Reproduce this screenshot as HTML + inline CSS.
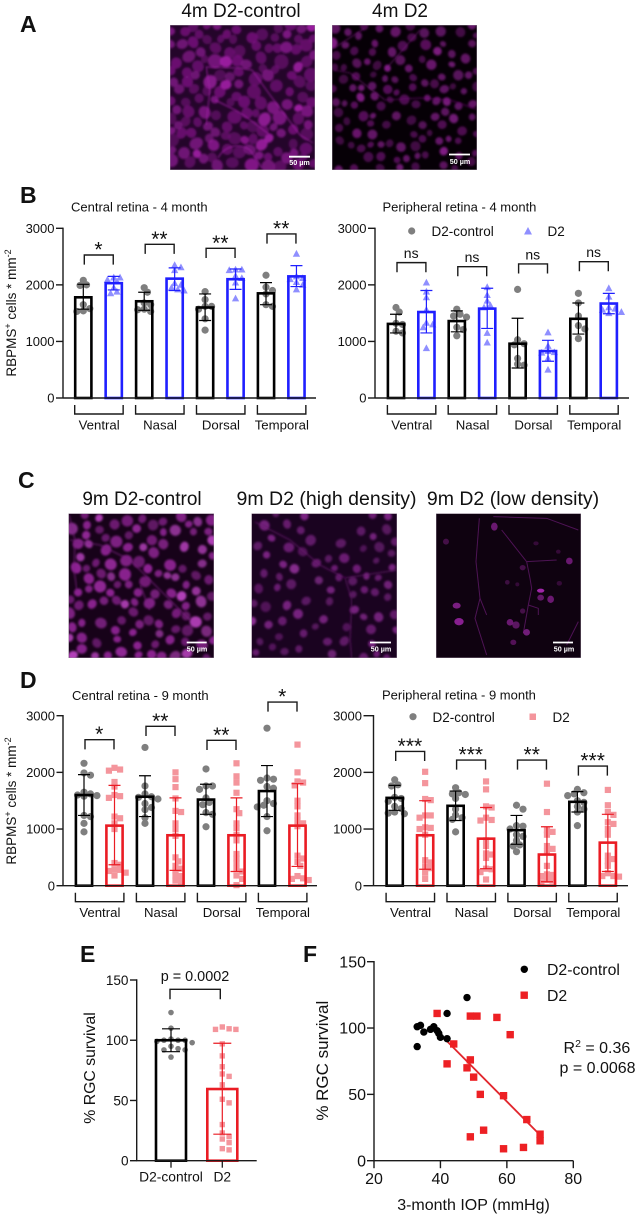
<!DOCTYPE html>
<html lang="en">
<head>
<meta charset="utf-8">
<title>RGC density figure</title>
<style>
html,body{margin:0;padding:0;background:#fff;}
svg{display:block;font-family:"Liberation Sans",sans-serif;}
text{fill:#111;}
</style>
</head>
<body>
<svg id="fig" xmlns="http://www.w3.org/2000/svg" width="638" height="1217" viewBox="0 0 638 1217">
  <defs>
    <filter id="soft" x="-5%" y="-5%" width="110%" height="110%"><feGaussianBlur stdDeviation="1"/></filter>
    <clipPath id="clipA1"><rect x="170" y="25" width="145" height="145"/></clipPath>
    <clipPath id="clipA2"><rect x="332" y="25" width="145" height="145"/></clipPath>
    <clipPath id="clipC1"><rect x="68.5" y="513.5" width="145.5" height="144.5"/></clipPath>
    <clipPath id="clipC2"><rect x="251.5" y="513.5" width="145.5" height="144.5"/></clipPath>
    <clipPath id="clipC3"><rect x="436" y="513.5" width="145" height="144.5"/></clipPath>
  </defs>
  <text x="20" y="32" font-size="23" font-weight="bold">A</text>
  <text x="20" y="203" font-size="23" font-weight="bold">B</text>
  <text x="18" y="488" font-size="23" font-weight="bold">C</text>
  <text x="20" y="688" font-size="23" font-weight="bold">D</text>
  <text x="80" y="962" font-size="23" font-weight="bold">E</text>
  <text x="303" y="962" font-size="23" font-weight="bold">F</text>

  <text x="241" y="17" font-size="19" text-anchor="middle">4m D2-control</text>
  <text x="400" y="17" font-size="19" text-anchor="middle">4m D2</text>
  <text x="142" y="505" font-size="19" text-anchor="middle">9m D2-control</text>
  <text x="326.5" y="505" font-size="19.5" text-anchor="middle">9m D2 (high density)</text>
  <text x="513" y="505" font-size="19.5" text-anchor="middle">9m D2 (low density)</text>

  <g id="images"></g>

  <text x="71" y="211.5" font-size="13">Central retina - 4 month</text>
  <text x="382.5" y="211.5" font-size="13">Peripheral retina - 4 month</text>
  <text x="72" y="700" font-size="13">Central retina - 9 month</text>
  <text x="382" y="699.5" font-size="13">Peripheral retina - 9 month</text>

  <text transform="translate(16,313) rotate(-90)" font-size="13.5" text-anchor="middle">RBPMS<tspan font-size="9" dy="-5">+</tspan><tspan dy="5"> cells * mm</tspan><tspan font-size="9" dy="-5">-2</tspan></text>
  <text transform="translate(16,801) rotate(-90)" font-size="13.5" text-anchor="middle">RBPMS<tspan font-size="9" dy="-5">+</tspan><tspan dy="5"> cells * mm</tspan><tspan font-size="9" dy="-5">-2</tspan></text>

  <g>
    <circle cx="411.7" cy="231" r="3.6" fill="#7f7f7f"/>
    <text x="431.5" y="236" font-size="13.5">D2-control</text>
    <polygon points="528,227 532,234.5 524,234.5" fill="#8f8fff"/>
    <text x="547.5" y="236" font-size="13.5">D2</text>
  </g>
  <g>
    <circle cx="413" cy="716.7" r="3.6" fill="#7f7f7f"/>
    <text x="432.5" y="722" font-size="13.5">D2-control</text>
    <rect x="529.5" y="713.5" width="6.5" height="6.5" fill="#f4959c"/>
    <text x="552.5" y="722" font-size="13.5">D2</text>
  </g>
  <g id="charts"></g>

  <text transform="translate(95,1068) rotate(-90)" font-size="15.8" text-anchor="middle">% RGC survival</text>
  <text x="195" y="981" font-size="14.4" text-anchor="middle">p = 0.0002</text>

  <text transform="translate(328,1060.7) rotate(-90)" font-size="17" text-anchor="middle">% RGC survival</text>
  <text x="473.5" y="1210" font-size="16" text-anchor="middle">3-month IOP (mmHg)</text>
  <text x="547" y="975" font-size="15.8">D2-control</text>
  <text x="547" y="1001" font-size="15.8">D2</text>
  <text x="563.5" y="1053" font-size="16">R<tspan font-size="10.5" dy="-6">2</tspan><tspan dy="6"> = 0.36</tspan></text>
  <text x="559.5" y="1073" font-size="16">p = 0.0068</text>
</svg>
<script>
/* ---------- chart data ---------- */
const groupNames = ['Ventral','Nasal','Dorsal','Temporal'];
const densityTicks = [0,1000,2000,3000];

/* B central, 4 months */
const bcCtrlMean = [1780,1710,1600,1850];
const bcCtrlLow  = [1570,1550,1370,1650];
const bcCtrlHigh = [2010,1870,1840,2040];
const bcCtrlPts  = [[2080,2000,1990,1650,1580,1540,1530],[1950,1870,1680,1650,1570,1560,1530],[1880,1740,1620,1620,1570,1400,1200],[2170,1960,1900,1840,1650,1620]];
const bcD2Mean = [2030,2110,2100,2150];
const bcD2Low  = [1910,1900,1920,1970];
const bcD2High = [2150,2300,2280,2340];
const bcD2Pts  = [[2130,2130,2090,2060,1950,1880,1850],[2350,2310,2260,2030,2000,1950,1920,1900],[2270,2270,2260,2160,2120,2040,1760],[2550,2150,2120,2100,2050,2000,1920]];
const bcSig = ['*','**','**','**'];
const bcBracket = [2528,2717,2646,2900];

/* B peripheral, 4 months */
const bpCtrlMean = [1310,1360,960,1400];
const bpCtrlLow  = [1150,1170,530,1130];
const bpCtrlHigh = [1480,1540,1410,1680];
const bpCtrlPts  = [[1600,1520,1320,1300,1180,1150],[1570,1480,1450,1430,1250,1210,1100],[1920,1030,960,940,700,600,580],[1850,1680,1450,1280,1220,1050]];
const bpD2Mean = [1520,1580,830,1670];
const bpD2Low  = [1150,1230,650,1490];
const bpD2High = [1900,1940,1020,1850];
const bpD2Pts  = [[2040,1880,1780,1560,1330,1300,1250,880],[1960,1820,1720,1640,1600,1150,980],[1160,920,830,810,800,700,500],[1940,1790,1600,1580,1560,1520,1500]];
const bpSig = ['ns','ns','ns','ns'];
const bpBracket = [2393,2322,2370,2410];

/* D central, 9 months */
const dcCtrlMean = [1600,1570,1520,1670];
const dcCtrlLow  = [1240,1220,1260,1220];
const dcCtrlHigh = [1960,1940,1790,2120];
const dcCtrlPts  = [[2160,1990,1950,1650,1620,1600,1590,1580,1240,1220,1100,950],[2440,1760,1620,1570,1560,1530,1450,1380,1340,1200,1100],[2060,1760,1760,1700,1550,1470,1430,1290,1260,1040],[2780,1900,1880,1860,1750,1720,1500,1450,1420,1390,1220,970]];
const dcD2Mean = [1060,890,890,1060];
const dcD2Low  = [370,270,250,340];
const dcD2High = [1770,1550,1550,1800];
const dcD2Pts  = [[2080,2050,2030,1830,1750,1600,1580,1550,1220,1190,1100,1000,400,370,290,280,260,230,180],[2000,1880,1740,1540,1320,1300,1100,1000,880,500,430,350,300,270,180,170,90,80],[2160,1930,1820,1640,1350,1280,1100,1020,900,800,560,480,400,300,250,180,120,10],[2490,2000,1840,1820,1770,1500,1400,1240,1150,1100,1050,530,480,420,350,170,130,120,100]];
const dcSig = ['*','**','**','*'];
const dcBracket = [2576,2812,2565,3241];

/* D peripheral, 9 months */
const dpCtrlMean = [1550,1410,980,1480];
const dpCtrlLow  = [1330,1150,730,1300];
const dpCtrlHigh = [1770,1670,1240,1660];
const dpCtrlPts  = [[1870,1780,1760,1560,1540,1490,1400,1360,1300,1280,1270],[1730,1640,1620,1610,1540,1350,1250,1200,1170,950],[1420,1350,1060,1050,1000,900,870,800,720,700,600],[1700,1640,1620,1590,1500,1470,1400,1350,1300,1060]];
const dpD2Mean = [890,830,550,760];
const dpD2Low  = [290,300,70,250];
const dpD2High = [1500,1380,1040,1260];
const dpD2Pts  = [[2010,1810,1530,1510,1240,1240,1200,1030,1020,1000,900,450,410,340,310,230,120],[1840,1700,1400,1380,1200,1160,1150,800,700,570,550,490,300,290,240,110],[1800,1300,980,950,900,700,650,600,350,200,190,170,100,90,60],[1690,1420,1300,1250,1120,1090,1000,900,530,470,430,350,220,170,170,160]];
const dpSig = ['***','***','**','***'];
const dpBracket = [2370,2218,2218,2112];

/* E survival */
const eCategories = ['D2-control','D2'];
const eTicks = [0,50,100,150];
const eMeans = [100,59.5];
const eLow   = [90.5,22];
const eHigh  = [109.5,97.5];
const eCtrlPts = [123,110,101,100,100,100,99,98,95,93,92,92,86];
const eD2Pts = [111,109.5,109,109,97,87,78,72,70,63,51,48,30,23,20,18,15,10,9];
const eBracketTop = 142.3;

/* F scatter */
const fXTicks = [20,40,60,80];
const fYTicks = [0,50,100,150];
const fCtrlIop = [33,33,34,35,37,38,39,39.5,40,42,42,48];
const fCtrlSurvival = [86,101,102,97,99,101,98,96,93,92,111,123];
const fD2Iop = [39,42,44,48,49,49,51,50,52,57,61,59,66,70,70,65,59,53,49];
const fD2Survival = [111,73,88,70,76,109,109,63,50,108,95,49,31,20,15,10,9,23,18];
const fFitIop = [42,69.5];
const fFitSurvival = [90,20.6];

/* ---------- helpers ---------- */
const NS = 'http://www.w3.org/2000/svg';
function mk(parent, tag, attrs, text){
  const el = document.createElementNS(NS, tag);
  for (const k in attrs) el.setAttribute(k, attrs[k]);
  if (text !== undefined) el.textContent = text;
  parent.appendChild(el);
  return el;
}
function swarm(values, yScale, d, limit){
  const sorted = values.slice().sort((a,b)=>b-a);
  const placed = [];
  sorted.forEach(v=>{
    const py = yScale(v);
    let off = 0, best = -1;
    for (let i=0;i<=limit;i++){
      const c = (i%2 ? 1 : -1) * Math.ceil(i/2) * d * 0.45;
      const nearest = placed.reduce((m,p)=>Math.min(m,Math.hypot(p.off-c,p.py-py)),Infinity);
      if (nearest >= d*0.72) { off = c; best = nearest; break; }
      if (nearest > best) { best = nearest; off = c; }
    }
    placed.push({off, py});
  });
  return placed;
}
function marker(parent, shape, cx, cy, s, fill){
  if (shape === 'circle') return mk(parent,'circle',{cx:cx,cy:cy,r:s/2,fill:fill});
  if (shape === 'square') return mk(parent,'rect',{x:cx-s/2,y:cy-s/2,width:s,height:s,fill:fill});
  return mk(parent,'polygon',{points:`${cx},${cy-s*0.55} ${cx+s*0.52},${cy+s*0.42} ${cx-s*0.52},${cy+s*0.42}`,fill:fill});
}

const charts = document.getElementById('charts');

function drawDensityPanel(cfg){
  const g = mk(charts,'g',{});
  
  
  const y = v => cfg.y0 - (v/3000)*(cfg.y0-cfg.y3000);
  const cx = i => cfg.first + i*cfg.step;

  /* points first, bars over them */
  const series = [
    {mean:cfg.ctrlMean,low:cfg.ctrlLow,high:cfg.ctrlHigh,pts:cfg.ctrlPts,color:'#000',ptColor:'#7f7f7f',shape:'circle',size:7.2},
    {mean:cfg.d2Mean,low:cfg.d2Low,high:cfg.d2High,pts:cfg.d2Pts,color:cfg.d2Color,ptColor:cfg.d2PtColor,shape:cfg.d2Shape,size:cfg.d2Shape==='square'?6.2:7}
  ];
  series.forEach((s,si)=>{
    s.mean.forEach((m,gi)=>{
      const c = cx(gi*2+si);
      const ptGroup = mk(g,'g',{});
      
      
      swarm(s.pts[gi], y, s.size, 7).forEach(p=>{
        const pt = marker(ptGroup, s.shape, c+p.off, p.py, s.size, s.ptColor);
        
        
      });
      const bar = mk(g,'rect',{x:c-8.1,y:y(m),width:16.2,height:cfg.y0-y(m),fill:'none',stroke:s.color,'stroke-width':2.6});
      
      
      const err = mk(g,'path',{d:`M${c} ${y(s.low[gi])}V${y(s.high[gi])}M${c-6} ${y(s.low[gi])}h12M${c-6} ${y(s.high[gi])}h12`,fill:'none',stroke:s.color,'stroke-width':1.2});
      
      
    });
  });

  /* axes */
  const axis = mk(g,'path',{d:`M${cfg.axisX} ${cfg.y3000-0.7}V${cfg.y0}M${cfg.axisX} ${cfg.y0}H${cfg.xEnd}`,fill:'none',stroke:'#1a1a1a','stroke-width':1.4});
  
  
  densityTicks.forEach(t=>{
    const tk = mk(g,'line',{x1:cfg.axisX-cfg.tick,x2:cfg.axisX,y1:y(t),y2:y(t),stroke:'#1a1a1a','stroke-width':1.4});
    
    
    const tl = mk(g,'text',{x:cfg.axisX-cfg.tick-1.5,y:y(t)+4.6,'font-size':13,'text-anchor':'end'},t);
    
    
  });

  /* group brackets, labels, significance */
  groupNames.forEach((name,gi)=>{
    const c1 = cx(gi*2), c2 = cx(gi*2+1);
    const gb = mk(g,'path',{d:`M${c1-8.6} ${cfg.y0+7}v9H${c2+9.4}v-9`,fill:'none',stroke:'#1a1a1a','stroke-width':1.4});
    
    
    const gl = mk(g,'text',{x:(c1+c2)/2+0.6,y:cfg.y0+31.5,'font-size':13.2,'text-anchor':'middle'},name);
    
    
    const top = y(cfg.bracket[gi]);
    const leg = (170/3000)*(cfg.y0-cfg.y3000);
    const sb = mk(g,'path',{d:`M${c1+1} ${top+leg}V${top}H${c2-0.5}V${top+leg}`,fill:'none',stroke:'#1a1a1a','stroke-width':1.4});
    
    
    const isNs = cfg.sig[gi]==='ns';
    const st = mk(g,'text',{x:(c1+c2)/2,y:isNs?top-4.5:top+1.5,'font-size':isNs?14:21,'text-anchor':'middle'},cfg.sig[gi]);
    
    
  });
}

const BLUE='#1f1fff', LBLUE='#8f8fff', RED='#ea1c24', PINK='#f4959c';
drawDensityPanel({name:'chart-central-4m',axisX:63,xEnd:316,y0:398,y3000:228.3,first:83.3,step:30.45,tick:7,
  ctrlMean:bcCtrlMean,ctrlLow:bcCtrlLow,ctrlHigh:bcCtrlHigh,ctrlPts:bcCtrlPts,d2Mean:bcD2Mean,d2Low:bcD2Low,d2High:bcD2High,d2Pts:bcD2Pts,sig:bcSig,bracket:bcBracket,d2Color:BLUE,d2PtColor:LBLUE,d2Shape:'triangle'});
drawDensityPanel({name:'chart-peripheral-4m',axisX:375,xEnd:629,y0:398,y3000:228.3,first:396,step:30.4,tick:7,
  ctrlMean:bpCtrlMean,ctrlLow:bpCtrlLow,ctrlHigh:bpCtrlHigh,ctrlPts:bpCtrlPts,d2Mean:bpD2Mean,d2Low:bpD2Low,d2High:bpD2High,d2Pts:bpD2Pts,sig:bpSig,bracket:bpBracket,d2Color:BLUE,d2PtColor:LBLUE,d2Shape:'triangle'});
drawDensityPanel({name:'chart-central-9m',axisX:63,xEnd:317,y0:885.7,y3000:715.7,first:84,step:30.5,tick:6.5,
  ctrlMean:dcCtrlMean,ctrlLow:dcCtrlLow,ctrlHigh:dcCtrlHigh,ctrlPts:dcCtrlPts,d2Mean:dcD2Mean,d2Low:dcD2Low,d2High:dcD2High,d2Pts:dcD2Pts,sig:dcSig,bracket:dcBracket,d2Color:RED,d2PtColor:PINK,d2Shape:'square'});
drawDensityPanel({name:'chart-peripheral-9m',axisX:373.5,xEnd:628,y0:885.7,y3000:715.7,first:394.7,step:30.45,tick:10,
  ctrlMean:dpCtrlMean,ctrlLow:dpCtrlLow,ctrlHigh:dpCtrlHigh,ctrlPts:dpCtrlPts,d2Mean:dpD2Mean,d2Low:dpD2Low,d2High:dpD2High,d2Pts:dpD2Pts,sig:dpSig,bracket:dpBracket,d2Color:RED,d2PtColor:PINK,d2Shape:'square'});

/* ---------- panel E ---------- */
(function(){
  const g = mk(charts,'g',{});
  
  
  const y = v => 1160.7 - (v/150)*180.7;
  const barX = [171,222.3];
  const pts = [eCtrlPts,eD2Pts];
  const colors = ['#000',RED], ptColors = ['#7f7f7f',PINK], shapes = ['circle','square'], sizes=[5.6,5.4];
  eCategories.forEach((name,i)=>{
    swarm(pts[i], y, sizes[i]*1.4, 11).forEach(p=>{
      const pt = marker(g, shapes[i], barX[i]+p.off, p.py, sizes[i], ptColors[i]);
      
      
    });
    const bar = mk(g,'rect',{x:barX[i]-15,y:y(eMeans[i]),width:30,height:y(0)-y(eMeans[i]),fill:'none',stroke:colors[i],'stroke-width':2.6});
    
    
    const err = mk(g,'path',{d:`M${barX[i]} ${y(eLow[i])}V${y(eHigh[i])}M${barX[i]-9} ${y(eLow[i])}h18M${barX[i]-9} ${y(eHigh[i])}h18`,fill:'none',stroke:colors[i],'stroke-width':1.2});
    
    
    const tk = mk(g,'line',{x1:barX[i],x2:barX[i],y1:y(0),y2:y(0)+7,stroke:'#1a1a1a','stroke-width':1.3});
    
    
    const tl = mk(g,'text',{x:barX[i],y:1181.5,'font-size':13.8,'text-anchor':'middle'},name);
    
    
  });
  const axis = mk(g,'path',{d:`M136.7 ${y(150)-0.7}V${y(0)}H256.7`,fill:'none',stroke:'#1a1a1a','stroke-width':1.4});
  
  
  eTicks.forEach(t=>{
    const tk = mk(g,'line',{x1:130,x2:136.7,y1:y(t),y2:y(t),stroke:'#1a1a1a','stroke-width':1.4});
    
    
    const tl = mk(g,'text',{x:128.5,y:y(t)+5,'font-size':13.6,'text-anchor':'end'},t);
    
    
  });
  const sb = mk(g,'path',{d:`M170 ${y(eBracketTop-8.3)}V${y(eBracketTop)}H220.3V${y(eBracketTop-8.3)}`,fill:'none',stroke:'#1a1a1a','stroke-width':1.4});
  
  
})();

/* ---------- panel F ---------- */
(function(){
  const g = mk(charts,'g',{});
  
  
  const x = v => 374 + (v-20)/60*199.3;
  const y = v => 1160.7 - (v/150)*199;
  const axis = mk(g,'path',{d:`M${x(20)} ${y(150)-0.7}V${y(0)}H${x(80)}`,fill:'none',stroke:'#1a1a1a','stroke-width':1.4});
  
  
  fXTicks.forEach(t=>{
    const tk = mk(g,'line',{x1:x(t),x2:x(t),y1:y(0),y2:y(0)+7.5,stroke:'#1a1a1a','stroke-width':1.4});
    
    
    const tl = mk(g,'text',{x:x(t),y:1184,'font-size':16,'text-anchor':'middle'},t);
    
    
  });
  fYTicks.forEach(t=>{
    const tk = mk(g,'line',{x1:x(20)-7,x2:x(20),y1:y(t),y2:y(t),stroke:'#1a1a1a','stroke-width':1.4});
    
    
    const tl = mk(g,'text',{x:366,y:y(t)+5.6,'font-size':16,'text-anchor':'end'},t);
    
    
  });
  const fit = mk(g,'line',{x1:x(fFitIop[0]),y1:y(fFitSurvival[0]),x2:x(fFitIop[1]),y2:y(fFitSurvival[1]),stroke:'#e1262d','stroke-width':1.8});
  
  
  fCtrlIop.forEach((v,i)=>{
    const c = mk(g,'circle',{cx:x(v),cy:y(fCtrlSurvival[i]),r:3.7,fill:'#000'});
    
    
  });
  fD2Iop.forEach((v,i)=>{
    const c = mk(g,'rect',{x:x(v)-3.7,y:y(fD2Survival[i])-3.7,width:7.4,height:7.4,fill:'#ed2024'});
    
    
  });
  const l1 = mk(g,'circle',{cx:524.3,cy:969.3,r:3.7,fill:'#000'});
  
  
  const l2 = mk(g,'rect',{x:520.5,y:991.5,width:7.4,height:7.4,fill:'#ed2024'});
  
  
})();

/* ---------- micrograph textures (decorative image stand-ins, not chart data) ---------- */
const images = document.getElementById('images');
function rng(seed){
  return function(){
    seed |= 0; seed = seed + 0x6D2B79F5 | 0;
    let t = Math.imul(seed ^ seed >>> 15, 1 | seed);
    t = t + Math.imul(t ^ t >>> 7, 61 | t) ^ t;
    return ((t ^ t >>> 14) >>> 0) / 4294967296;
  };
}
function micrograph(o){
  const g = mk(images,'g',{'clip-path':`url(#${o.clip})`});
  
  
  mk(g,'rect',{x:o.x,y:o.y,width:o.w,height:o.h,fill:o.bg});
  const cells = mk(g,'g',{filter:'url(#soft)'});
  const r = rng(o.seed), placed = [];
  let tries = 0;
  while (placed.length < o.n && tries < 6000){
    tries++;
    const px = o.x + r()*o.w, py = o.y + r()*o.h, rad = o.rMin + r()*(o.rMax-o.rMin);
    if (o.hole && Math.hypot(px-o.hole[0],py-o.hole[1]) < o.hole[2]) continue;
    if (placed.every(p=>Math.hypot(p.x-px,p.y-py) > (p.r+rad)*o.gap)){
      placed.push({x:px,y:py,r:rad});
      const b = o.opMin + r()*(o.opMax-o.opMin);
      mk(cells,'ellipse',{cx:px,cy:py,rx:rad,ry:rad*(0.82+r()*0.25),fill:r()<o.brightP?o.bright:o.cell,'fill-opacity':b,transform:`rotate(${Math.round(r()*180)} ${px} ${py})`});
    }
  }
  (o.lines||[]).forEach(d=>mk(g,'path',{d:d,fill:'none',stroke:o.lineColor,'stroke-width':o.lineW||1,'stroke-opacity':0.85,filter:'url(#soft)'}));
  mk(g,'rect',{x:o.x,y:o.y,width:o.w,height:o.h,fill:'none',stroke:'#9a8a9c','stroke-width':0.8});
  return g;
}
function scaleBar(x1,x2,y,tx,ty){
  const b = mk(images,'line',{x1:x1,x2:x2,y1:y,y2:y,stroke:'#fff','stroke-width':1.8});
  
  
  const t = mk(images,'text',{x:tx,y:ty,'font-size':7.2,'text-anchor':'middle',style:'fill:#fff;font-weight:bold'},'50 µm');
  
  
}
micrograph({name:'micrograph-4m-control',clip:'clipA1',x:170,y:25,w:145,h:145,bg:'#24052a',cell:'#7e1584',bright:'#a11ea6',brightP:.15,seed:11,n:150,rMin:4.2,rMax:7.2,gap:.82,opMin:.5,opMax:.95,lineColor:'#a81fae',
  lines:['M206 67L240 68L252 70L270 95L285 115L300 135L313 143','M206 67L210 90L206 125','M215 100L235 110L245 116L270 135','M218 158C225 145 240 143 250 150L262 168']});
micrograph({name:'micrograph-4m-d2',clip:'clipA2',x:332,y:25,w:145,h:145,bg:'#060006',cell:'#6c1570',bright:'#8c1f90',brightP:.12,seed:22,n:125,rMin:3.2,rMax:5.4,gap:1.1,opMin:.55,opMax:.95,lineColor:'#7a1a80',lineW:.8,
  lines:['M334 70L350 73L385 100L420 98L450 100L476 109','M334 48L365 28','M385 70L420 30']});
micrograph({name:'micrograph-9m-control',clip:'clipC1',x:68.5,y:513.5,w:145.5,h:144.5,bg:'#170219',cell:'#8f2494',bright:'#b440ba',brightP:.18,seed:33,n:120,rMin:3.8,rMax:6.2,gap:1.02,opMin:.6,opMax:1,lineColor:'#7a1c80',lineW:1.1,
  lines:['M69 515L75 540L74 570L77 590','M70 540L100 545L130 560L160 590L175 605L190 620','M140 585L150 610']});
micrograph({name:'micrograph-9m-high',clip:'clipC2',x:251.5,y:513.5,w:145.5,h:144.5,bg:'#1a0320',cell:'#7a2282',bright:'#9a34a2',brightP:.12,seed:44,n:78,rMin:3.4,rMax:5.4,gap:1.35,opMin:.55,opMax:1,hole:[328,520,22],lineColor:'#661a6c',lineW:1.1,
  lines:['M255 522L290 540L320 565L345 578','M345 578L352 600L350 640L352 658','M345 578L397 570']});
(function(){
  /* 9m D2 low density: sparse, individually placed */
  const g = mk(images,'g',{'clip-path':'url(#clipC3)'});
  
  
  mk(g,'rect',{x:436,y:513.5,width:145,height:144.5,fill:'#0f0210'});
  const inner = mk(g,'g',{transform:'translate(430 505) scale(.3333)',filter:'url(#soft)'});
  ['M148 40L138 170L150 280L170 330','M150 280L135 340L170 450','M215 75L290 170L300 220L305 250L295 300L280 385','M290 170L380 165','M190 35L350 40L445 75','M295 300L325 310L325 330','M445 350L410 420']
    .forEach(d=>mk(inner,'path',{d:d,fill:'none',stroke:'#4e1254','stroke-width':3}));
  [[193,65,10,12,.6],[48,110,9,9,.35],[418,168,10,10,.6],[80,302,12,9,.7],[87,350,14,11,.8],[332,257,11,6,.95],[332,278,10,9,.55],[362,283,10,11,.6],[240,352,10,10,.6],[258,360,11,11,.5],[290,382,10,10,.65],[250,412,9,8,.45],[278,188,9,8,.35],[278,318,8,8,.35],[232,232,7,7,.3],[262,238,6,6,.25],[388,235,8,7,.25],[318,115,8,6,.25],[385,140,7,6,.25]]
    .forEach(c=>mk(inner,'ellipse',{cx:c[0],cy:c[1],rx:c[2],ry:c[3],fill:'#a628b0','fill-opacity':c[4]}));
  mk(g,'rect',{x:436,y:513.5,width:145,height:144.5,fill:'none',stroke:'#9a8a9c','stroke-width':0.8});
})();
scaleBar(289,310,156.7,299.5,165);
scaleBar(449,470,154.5,460,164);
scaleBar(186.7,206.7,642.5,197,651.5);
scaleBar(370,391,642.5,381,651.5);
scaleBar(553,573,642.5,564,651.5);
</script>
</body>
</html>
